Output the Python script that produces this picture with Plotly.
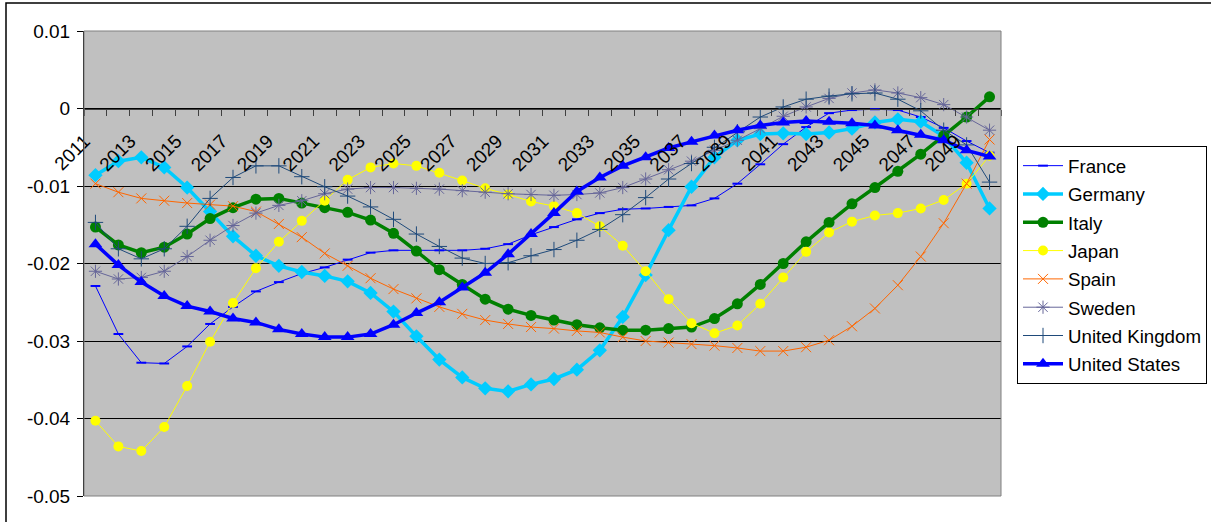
import plotly.graph_objects as go

years = list(range(2011, 2051))

france = [-0.0229, -0.0291, -0.0328, -0.0329, -0.0307, -0.0278, -0.0256, -0.0236, -0.0224, -0.0213,
          -0.0205, -0.0195, -0.0186, -0.0183, -0.0183, -0.0183, -0.0183, -0.0181, -0.0175, -0.0163,
          -0.0153, -0.0143, -0.0135, -0.0130, -0.0129, -0.0127, -0.0125, -0.0116, -0.0097, -0.0072,
          -0.0046, -0.0024, -0.0006, -0.0002, -0.0001, -0.0002, -0.0011, -0.0025, -0.0042, -0.0057]
germany = [-0.0086, -0.0068, -0.0063, -0.0076, -0.0102, -0.0133, -0.0165, -0.0190, -0.0203, -0.0211,
           -0.0216, -0.0223, -0.0238, -0.0262, -0.0294, -0.0324, -0.0347, -0.0361, -0.0365, -0.0356,
           -0.0349, -0.0337, -0.0312, -0.0269, -0.0215, -0.0157, -0.0101, -0.0063, -0.0041, -0.0033,
           -0.0032, -0.0033, -0.0031, -0.0026, -0.0018, -0.0014, -0.0017, -0.0036, -0.0070, -0.0129]
italy = [-0.0153, -0.0176, -0.0186, -0.0179, -0.0162, -0.0142, -0.0128, -0.0117, -0.0116, -0.0122,
         -0.0128, -0.0134, -0.0144, -0.0161, -0.0184, -0.0208, -0.0227, -0.0246, -0.0259, -0.0267,
         -0.0273, -0.0279, -0.0283, -0.0286, -0.0286, -0.0284, -0.0282, -0.0271, -0.0252, -0.0227,
         -0.0200, -0.0172, -0.0147, -0.0123, -0.0102, -0.0081, -0.0059, -0.0035, -0.0011, 0.0015]
japan = [-0.0403, -0.0436, -0.0442, -0.0411, -0.0358, -0.0301, -0.0251, -0.0206, -0.0172, -0.0145,
         -0.0119, -0.0092, -0.0076, -0.0071, -0.0074, -0.0083, -0.0093, -0.0103, -0.0111, -0.0120,
         -0.0126, -0.0135, -0.0152, -0.0177, -0.0210, -0.0246, -0.0277, -0.0290, -0.0280, -0.0252,
         -0.0218, -0.0185, -0.0160, -0.0146, -0.0138, -0.0135, -0.0129, -0.0118, -0.0097, -0.0061]
spain = [-0.0097, -0.0108, -0.0116, -0.0119, -0.0122, -0.0124, -0.0126, -0.0133, -0.0149, -0.0166,
         -0.0187, -0.0203, -0.0219, -0.0233, -0.0245, -0.0256, -0.0265, -0.0273, -0.0278, -0.0282,
         -0.0284, -0.0287, -0.0289, -0.0295, -0.0300, -0.0302, -0.0304, -0.0306, -0.0309, -0.0313,
         -0.0313, -0.0308, -0.0299, -0.0281, -0.0258, -0.0228, -0.0191, -0.0148, -0.0097, -0.0040]
sweden = [-0.0210, -0.0220, -0.0218, -0.0210, -0.0191, -0.0170, -0.0151, -0.0135, -0.0125, -0.0119,
          -0.0110, -0.0104, -0.0102, -0.0102, -0.0103, -0.0104, -0.0106, -0.0108, -0.0110, -0.0111,
          -0.0112, -0.0111, -0.0109, -0.0102, -0.0091, -0.0079, -0.0068, -0.0054, -0.0041, -0.0026,
          -0.0010, 0.0002, 0.0013, 0.0020, 0.0024, 0.0020, 0.0014, 0.0005, -0.0011, -0.0028]
united_kingdom = [-0.0147, -0.0181, -0.0194, -0.0181, -0.0152, -0.0116, -0.0089, -0.0074, -0.0074, -0.0088,
                  -0.0101, -0.0113, -0.0127, -0.0143, -0.0162, -0.0178, -0.0193, -0.0200, -0.0199, -0.0190,
                  -0.0182, -0.0170, -0.0156, -0.0137, -0.0115, -0.0091, -0.0071, -0.0050, -0.0030, -0.0011,
                  0.0002, 0.0012, 0.0016, 0.0019, 0.0020, 0.0012, -0.0003, -0.0028, -0.0047, -0.0095]
united_states = [-0.0175, -0.0202, -0.0224, -0.0242, -0.0255, -0.0262, -0.0271, -0.0276, -0.0285, -0.0291,
                 -0.0295, -0.0295, -0.0291, -0.0279, -0.0264, -0.0250, -0.0231, -0.0212, -0.0188, -0.0162,
                 -0.0135, -0.0107, -0.0089, -0.0074, -0.0063, -0.0051, -0.0043, -0.0035, -0.0028, -0.0022,
                 -0.0018, -0.0016, -0.0017, -0.0019, -0.0022, -0.0028, -0.0034, -0.0041, -0.0054, -0.0062]

x_tick_years = list(range(2011, 2050, 2))
x_tick_labels = [str(y) for y in x_tick_years]
y_tick_values = [0.01, 0, -0.01, -0.02, -0.03, -0.04, -0.05]
y_tick_labels = ["0.01", "0", "-0.01", "-0.02", "-0.03", "-0.04", "-0.05"]

# (name, values, colour, line width, marker symbol, marker size, filled marker?)
series = [
    ("France", france, "#0000FF", 1, "line-ew", 7, False),
    ("Germany", germany, "#00CCFF", 3.5, "diamond", 11, True),
    ("Italy", italy, "#008000", 3.5, "circle", 11, True),
    ("Japan", japan, "#FFFF00", 1, "circle", 10, True),
    ("Spain", spain, "#FF6600", 1, "x-thin", 10, False),
    ("Sweden", sweden, "#666699", 1, "asterisk", 11, False),
    ("United Kingdom", united_kingdom, "#1F4A7A", 1, "cross-thin", 11, False),
    ("United States", united_states, "#0000FF", 3.5, "triangle-up", 12, True),
]

W, H = 1211, 522
PL, PR, PT, PB = 84, 1001, 31, 496          # plot box in pixels
pw, ph = PR - PL, PB - PT

def px_x(v):
    return (v - PL) / pw

def px_y(v):
    return (PB - v) / ph

FONT = "Liberation Sans, Arial, sans-serif"

fig = go.Figure()
for name, vals, color, lw, sym, size, filled in series:
    if filled:
        marker = dict(symbol=sym, size=size, color=color, line=dict(width=0))
    else:
        marker = dict(symbol=sym, size=size, color=color,
                      line=dict(width=2 if sym == "line-ew" else 1, color=color))
    fig.add_trace(go.Scatter(
        x=years, y=vals, name=name, legendgroup=name, mode="lines+markers",
        line=dict(color=color, width=lw), marker=marker,
    ))

y_lo, y_hi = -0.05, 0.01
fig.update_layout(
    width=W, height=H,
    margin=dict(l=PL, r=W - PR, t=PT, b=H - PB, autoexpand=False),
    paper_bgcolor="white",
    plot_bgcolor="#C0C0C0",
    font=dict(family=FONT, size=19, color="black"),
    showlegend=True,
    legend=dict(
        x=px_x(1017), y=px_y(146), xanchor="left", yanchor="top",
        bgcolor="white", bordercolor="black", borderwidth=1,
        font=dict(family=FONT, size=18.7, color="black"),
        itemwidth=40, tracegroupgap=1,
    ),
    xaxis=dict(
        range=[2010.5, 2050.5], anchor="free",
        position=(0 - y_lo) / (y_hi - y_lo),
        tickmode="array", tickvals=x_tick_years, ticktext=x_tick_labels,
        tickangle=-45, ticks="outside", ticklen=6, tickcolor="rgba(0,0,0,0)",
        ticklabelstandoff=7, ticklabelshift=-11,
        minor=dict(tickmode="linear", tick0=2010.5, dtick=1, ticks="outside",
                   ticklen=6, tickcolor="#404040", tickwidth=1, showgrid=False),
        showline=True, linecolor="#404040", linewidth=1,
        showgrid=False, zeroline=False, automargin=False,
    ),
    yaxis=dict(
        range=[y_lo, y_hi], tickmode="array",
        tickvals=y_tick_values, ticktext=y_tick_labels,
        ticks="outside", ticklen=6, tickcolor="black", ticklabelstandoff=3,
        showline=True, linecolor="black", linewidth=1,
        showgrid=True, gridcolor="black", gridwidth=1,
        zeroline=False, automargin=False,
    ),
    shapes=[
        dict(type="rect", xref="paper", yref="paper", x0=0, x1=1, y0=0, y1=1,
             line=dict(color="#808080", width=1), layer="above"),
        dict(type="rect", xref="paper", yref="paper",
             x0=px_x(6), x1=px_x(1215), y0=px_y(526), y1=px_y(3),
             line=dict(color="black", width=1.5), layer="above"),
    ],
)

fig.write_html("out.html")
